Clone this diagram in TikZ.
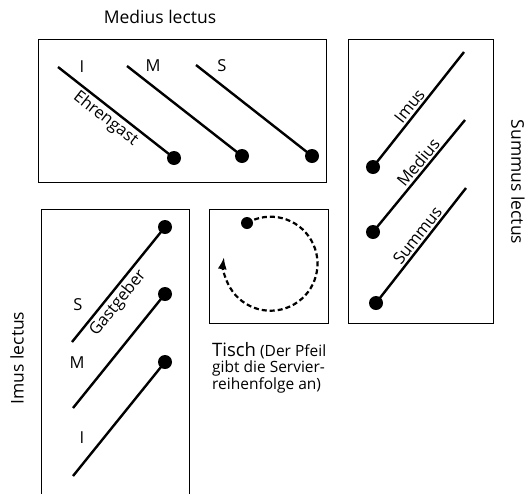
\documentclass[tikz,border=0pt]{standalone}
\usepackage{fontspec}
\setmainfont{Open Sans}
\usetikzlibrary{arrows.meta}
\begin{document}
\begin{tikzpicture}[x=1pt,y=-1pt,
  frame/.style={draw, line width=1.4pt, inner sep=0pt, anchor=north west},
  couch/.style={line width=2.4pt},
  diner/.style={circle, fill, inner sep=0pt, minimum size=14pt},
  seat/.style={font=\fontsize{16.5}{18}\selectfont, inner sep=0pt},
  lectus/.style={font=\fontsize{17.5}{20}\selectfont, inner sep=0pt},
  serve/.style={line width=2.2pt, dash pattern=on 5pt off 3pt, -{Latex[length=12pt,width=9pt]}}]
\useasboundingbox (0,0) rectangle (530,493);
% frames
\node[frame, minimum width=288pt, minimum height=143pt] (mbox) at (38,39) {};
\node[frame, minimum width=145pt, minimum height=284pt] (sbox) at (348,39) {};
\node[frame, minimum width=148pt, minimum height=300pt] (ibox) at (41,209) {};
\node[frame, minimum width=119pt, minimum height=114pt] (tbox) at (209,209) {};
% titles
\node[lectus] (mt) at (160,17) {Medius lectus};
\node[lectus, rotate=-90] (st) at (518,182) {Summus lectus};
\node[lectus, rotate=90] (it) at (17,358) {Imus lectus};
% medius lectus
\coordinate (m1s) at (58,67);  \node[diner] (m1) at (174,158) {};
\coordinate (m2s) at (127,66); \node[diner] (m2) at (242,156) {};
\coordinate (m3s) at (196,65); \node[diner] (m3) at (312,156) {};
\draw[couch] (m1s) -- (m1.center);
\draw[couch] (m2s) -- (m2.center);
\draw[couch] (m3s) -- (m3.center);
\path (m1s) -- (m1.center) node[seat, pos=0.47, sloped, below=3pt] (eg) {Ehrengast};
\node[seat] (mi) at (82,67) {I};
\node[seat] (mm) at (153,66) {M};
\node[seat] (ms) at (222,66) {S};
% summus lectus
\node[diner] (s1) at (373,167) {}; \coordinate (s1e) at (464,52);
\node[diner] (s2) at (373,232) {}; \coordinate (s2e) at (465,120);
\node[diner] (s3) at (376,303) {}; \coordinate (s3e) at (466,188);
\draw[couch] (s1.center) -- (s1e);
\draw[couch] (s2.center) -- (s2e);
\draw[couch] (s3.center) -- (s3e);
\path (s1.center) -- (s1e) node[seat, pos=0.48, sloped, above=3pt] (imus) {Imus};
\path (s2.center) -- (s2e) node[seat, pos=0.57, sloped, above=3pt] (medius) {Medius};
\path (s3.center) -- (s3e) node[seat, pos=0.54, sloped, above=3pt] (summus) {Summus};
% imus lectus
\coordinate (i1s) at (72,342); \node[diner] (i1) at (165,227) {};
\coordinate (i2s) at (73,408); \node[diner] (i2) at (165,294) {};
\coordinate (i3s) at (73,476); \node[diner] (i3) at (165,362) {};
\draw[couch] (i1s) -- (i1.center);
\draw[couch] (i2s) -- (i2.center);
\draw[couch] (i3s) -- (i3.center);
\path (i1s) -- (i1.center) node[seat, pos=0.40, sloped, below=3pt] (gg) {Gastgeber};
\node[seat] (is) at (78,305) {S};
\node[seat] (im) at (77,363) {M};
\node[seat] (ii) at (82,438) {I};
% table
\node[diner, minimum size=12pt] (td) at (247,223) {};
\draw[serve] (td.center) arc[start angle=240, end angle=548, radius=47];
\node[inner sep=0pt, anchor=base west, align=left, font=\fontsize{15.5}{15.5}\selectfont] (tx) at (212,389)
  {{\fontsize{18.5}{15.5}\selectfont Tisch} (Der Pfeil\\gibt die Servier-\\reihenfolge an)};
\end{tikzpicture}
\end{document}
